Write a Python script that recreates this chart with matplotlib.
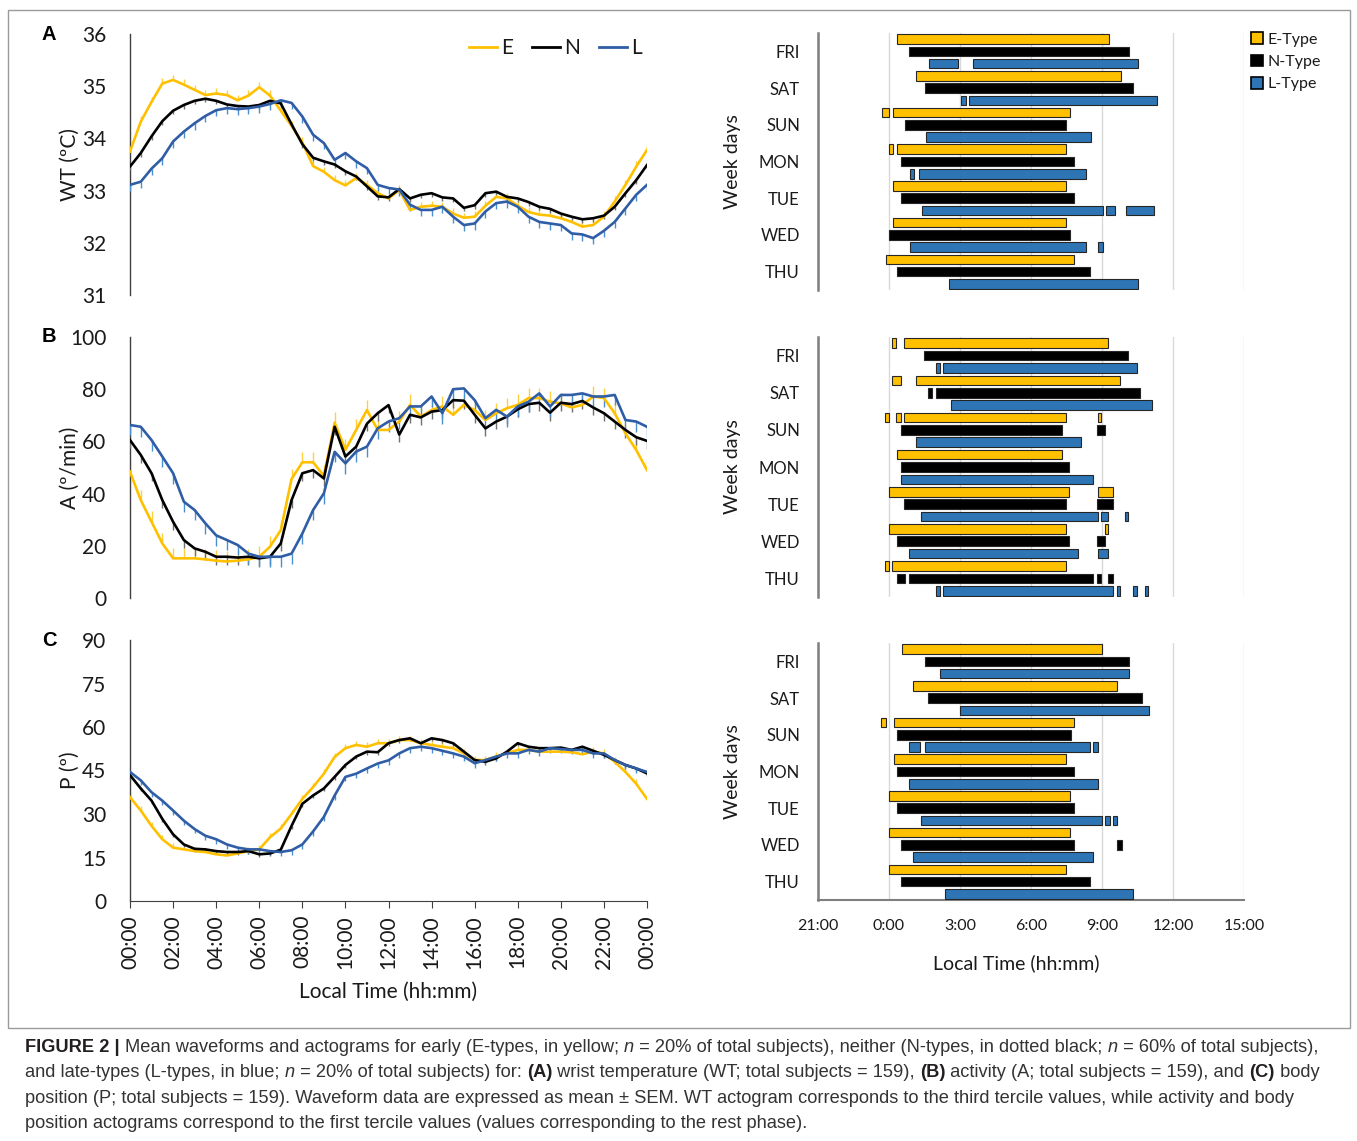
import numpy as np
import matplotlib
matplotlib.use("Agg")
import matplotlib.pyplot as plt
from matplotlib.patches import Patch, Rectangle
from matplotlib.lines import Line2D

plt.rcParams['font.family'] = ['Lato', 'DejaVu Sans']

# ---------------- waveform data (every 30 min, 00:00 .. 24:00) ----------------
HOURS = np.arange(0, 24.5, 0.5)
TIME_TICKS = ["00:00", "02:00", "04:00", "06:00", "08:00", "10:00", "12:00",
              "14:00", "16:00", "18:00", "20:00", "22:00", "00:00"]

WT_E = [33.75, 34.32, 34.70, 35.05, 35.12, 35.03, 34.93, 34.83, 34.86, 34.83, 34.73, 34.82,
        34.98, 34.82, 34.53, 34.24, 33.92, 33.47, 33.36, 33.20, 33.10, 33.24, 33.11, 32.95,
        32.85, 33.01, 32.63, 32.69, 32.71, 32.69, 32.56, 32.48, 32.50, 32.71, 32.88, 32.85,
        32.71, 32.59, 32.54, 32.52, 32.47, 32.40, 32.31, 32.34, 32.50, 32.79, 33.11, 33.46, 33.78]
WT_N = [33.46, 33.72, 34.04, 34.33, 34.53, 34.64, 34.72, 34.76, 34.72, 34.65, 34.62, 34.61,
        34.64, 34.72, 34.67, 34.27, 33.89, 33.63, 33.56, 33.50, 33.37, 33.27, 33.08, 32.89,
        32.87, 33.03, 32.85, 32.92, 32.95, 32.87, 32.85, 32.67, 32.72, 32.95, 32.98, 32.88,
        32.85, 32.78, 32.69, 32.65, 32.56, 32.50, 32.45, 32.47, 32.52, 32.69, 32.95, 33.20, 33.49]
WT_L = [33.11, 33.17, 33.42, 33.62, 33.94, 34.13, 34.29, 34.43, 34.54, 34.58, 34.56, 34.58,
        34.61, 34.66, 34.73, 34.68, 34.42, 34.07, 33.91, 33.59, 33.72, 33.56, 33.43, 33.11,
        33.05, 33.02, 32.73, 32.63, 32.63, 32.69, 32.50, 32.34, 32.37, 32.60, 32.76, 32.79,
        32.69, 32.50, 32.40, 32.37, 32.34, 32.18, 32.16, 32.09, 32.23, 32.40, 32.66, 32.92, 33.11]

A_E = [48.4, 37.5, 29.2, 20.9, 15.2, 15.2, 15.2, 14.8, 14.3, 14.0, 14.3, 14.8,
       15.8, 19.7, 26.0, 45.6, 52.0, 52.0, 46.8, 67.2, 56.8, 64.4, 72.0, 64.4,
       64.4, 67.6, 74.0, 69.5, 72.0, 73.4, 70.2, 74.0, 72.0, 68.2, 70.8, 72.7,
       74.0, 76.6, 76.6, 75.2, 74.6, 73.0, 74.0, 77.2, 76.6, 70.8, 63.1, 56.7, 49.0]
A_N = [60.5, 54.8, 47.8, 37.5, 29.2, 22.2, 19.0, 17.7, 15.8, 15.8, 15.5, 15.8,
       15.2, 15.8, 20.9, 37.5, 47.8, 49.0, 45.8, 65.6, 54.2, 58.0, 66.8, 70.8,
       73.9, 62.6, 70.2, 69.2, 71.4, 72.0, 75.8, 75.6, 70.2, 65.0, 67.6, 69.5,
       72.3, 74.3, 74.8, 71.0, 74.8, 74.3, 75.5, 73.0, 70.8, 67.6, 64.4, 61.6, 60.2]
A_L = [66.3, 65.6, 60.5, 54.2, 47.8, 36.9, 33.7, 28.6, 24.0, 22.2, 20.3, 17.0,
       15.8, 15.8, 15.8, 17.0, 24.7, 33.7, 40.1, 56.0, 51.6, 56.1, 58.0, 65.0,
       67.6, 68.9, 73.4, 73.4, 77.2, 70.8, 80.0, 80.3, 75.8, 68.9, 72.1, 69.5,
       73.4, 75.2, 78.4, 73.4, 77.8, 77.8, 78.4, 77.2, 77.2, 77.8, 68.2, 67.6, 65.6]

P_E = [35.8, 31.2, 25.9, 21.3, 18.4, 17.8, 17.2, 16.9, 16.1, 15.7, 16.4, 17.2,
       17.8, 22.0, 25.0, 30.0, 35.2, 39.3, 43.9, 49.7, 52.7, 53.8, 53.2, 54.4,
       54.4, 55.5, 55.5, 54.4, 53.8, 53.2, 52.7, 50.9, 48.6, 48.6, 49.8, 50.9,
       52.1, 52.1, 51.5, 51.5, 51.5, 51.3, 50.6, 51.5, 50.9, 48.0, 44.5, 40.4, 35.2]
P_N = [43.4, 38.8, 34.6, 28.3, 23.0, 19.5, 18.0, 17.8, 17.2, 16.9, 16.9, 17.2,
       16.1, 16.4, 17.7, 25.9, 33.5, 36.4, 38.8, 42.8, 46.9, 49.8, 51.5, 51.3,
       54.4, 55.5, 56.1, 54.4, 56.1, 55.5, 54.4, 51.5, 48.6, 48.0, 49.2, 51.5,
       54.4, 53.2, 52.7, 52.7, 52.9, 52.1, 53.2, 51.8, 50.4, 48.6, 46.9, 45.7, 44.0]
P_L = [44.5, 41.6, 37.5, 34.6, 31.2, 27.7, 24.8, 22.5, 21.3, 19.5, 18.4, 17.8,
       17.8, 17.2, 16.9, 17.5, 19.5, 24.0, 29.0, 36.4, 42.8, 43.9, 45.7, 47.4,
       48.5, 50.9, 52.7, 53.2, 52.7, 51.8, 50.9, 49.8, 47.5, 48.6, 49.8, 50.9,
       50.9, 52.1, 51.5, 52.7, 52.4, 52.1, 52.1, 50.9, 50.9, 48.6, 46.9, 45.7, 44.5]

# SEM (one value per series: E, N, L)
SEM_WT = [0.10, 0.07, 0.12]
SEM_A = [4.0, 3.0, 4.0]
SEM_P = [1.5, 1.0, 1.5]

# ---------------- actogram data (hours after 0:00) ----------------
DAYS = ["FRI", "SAT", "SUN", "MON", "TUE", "WED", "THU"]
ACT_TICKS = [-3, 0, 3, 6, 9, 12, 15]
ACT_TICK_LABELS = ["21:00", "0:00", "3:00", "6:00", "9:00", "12:00", "15:00"]

WT_ACT_E = [[(0.32, 9.31)], [(1.15, 9.82)], [(-0.31, 0.0), (0.18, 7.66)],
            [(0.0, 0.18), (0.32, 7.46)], [(0.18, 7.46)], [(0.18, 7.46)], [(-0.13, 7.80)]]
WT_ACT_N = [[(0.83, 10.15)], [(1.51, 10.29)], [(0.69, 7.48)], [(0.50, 7.80)],
            [(0.50, 7.80)], [(0.0, 7.66)], [(0.32, 8.50)]]
WT_ACT_L = [[(1.71, 2.92), (3.55, 10.52)], [(3.04, 3.24), (3.37, 11.33)], [(1.58, 8.53)],
            [(0.88, 1.07), (1.25, 8.34)], [(1.39, 9.03), (9.19, 9.55), (10.01, 11.21)],
            [(0.88, 8.34), (8.85, 9.05)], [(2.54, 10.52)]]

A_ACT_E = [[(0.14, 0.31), (0.65, 9.26)], [(0.14, 0.50), (1.15, 9.78)],
           [(-0.18, 0.0), (0.31, 0.52), (0.65, 7.46), (8.81, 8.95)], [(0.32, 7.29)],
           [(0.0, 7.60), (8.81, 9.45)], [(0.0, 7.46), (9.13, 9.26)], [(-0.18, 0.0), (0.14, 7.46)]]
A_ACT_N = [[(1.46, 10.10)], [(1.65, 1.82), (1.98, 10.62)], [(0.50, 7.29), (8.79, 9.14)],
           [(0.50, 7.62)], [(0.65, 7.48), (8.79, 9.45)], [(0.32, 7.62), (8.79, 9.14)],
           [(0.32, 0.66), (0.83, 8.63), (8.79, 8.95), (9.27, 9.45)]]
A_ACT_L = [[(1.99, 2.17), (2.30, 10.46)], [(2.62, 11.12)], [(1.15, 8.11)], [(0.52, 8.63)],
           [(1.35, 8.81), (8.95, 9.26), (9.96, 10.10)], [(0.84, 7.97), (8.81, 9.26)],
           [(1.99, 2.17), (2.30, 9.45), (9.64, 9.78), (10.29, 10.46), (10.80, 10.93)]]

P_ACT_E = [[(0.53, 8.99)], [(1.02, 9.64)], [(-0.32, -0.13), (0.20, 7.80)], [(0.20, 7.48)],
           [(0.01, 7.66)], [(0.01, 7.66)], [(0.01, 7.48)]]
P_ACT_N = [[(1.51, 10.15)], [(1.65, 10.67)], [(0.32, 7.67)], [(0.32, 7.81)], [(0.32, 7.81)],
           [(0.52, 7.81), (9.62, 9.83)], [(0.52, 8.50)]]
P_ACT_L = [[(2.17, 10.14)], [(3.0, 10.98)], [(0.84, 1.33), (1.53, 8.49), (8.63, 8.82)],
           [(0.84, 8.82)], [(1.35, 8.99), (9.13, 9.33), (9.45, 9.65)], [(1.02, 8.63)],
           [(2.37, 10.29)]]

# ---------------- styling ----------------
W, H = 1357, 1141
LINE_COLORS = ["#FFC000", "#000000", "#2F5DA6"]
HAIR_COLORS = ["#FFCF40", "#707070", "#4A8FD0"]
BAR_COLORS = ["#FFC000", "#000000", "#2E75B6"]
TXT = "#1a1a1a"

fig = plt.figure(figsize=(W / 100, H / 100), dpi=100)


def fx(px):
    return px / W


def fy(py):
    return 1 - py / H


# frame
fig.patches.append(Rectangle((fx(8), fy(1028)), fx(1350) - fx(8), fy(10) - fy(1028),
                             transform=fig.transFigure, fill=False,
                             edgecolor="#9a9a9a", lw=1.0))

rect_top_px = {"A": 34, "B": 337, "C": 640}


def line_panel(rect, series, sems, ylim, yticks, ylabel, letter, bottom=False):
    ax = fig.add_axes(rect)
    for i, (vals, sem) in enumerate(zip(series, sems)):
        v = np.array(vals)
        s = np.full(len(v), sem)
        z = np.zeros(len(v))
        yerr = [z, s] if i == 0 else [s, z]
        ax.errorbar(HOURS, v, yerr=yerr, fmt="none", ecolor=HAIR_COLORS[i],
                    elinewidth=1.0, capsize=0, zorder=2 + i)
        ax.plot(HOURS, v, color=LINE_COLORS[i], lw=1.9, zorder=5 + i)
    ax.set_xlim(0, 24)
    ax.set_ylim(*ylim)
    ax.set_yticks(yticks)
    ax.set_yticklabels([str(t) for t in yticks], fontsize=15, color=TXT)
    ax.tick_params(axis="y", length=0, pad=17)
    for sp in ["top", "right"]:
        ax.spines[sp].set_visible(False)
    ax.spines["left"].set_color("#404040")
    ax.spines["left"].set_linewidth(1.0)
    if bottom:
        ax.spines["bottom"].set_color("#404040")
        ax.set_xticks(np.arange(0, 25, 2))
        ax.set_xticklabels(TIME_TICKS, rotation=90, fontsize=15, color=TXT)
        ax.tick_params(axis="x", length=5, color="#404040", pad=5)
        ax.set_xlabel("Local Time (hh:mm)", fontsize=15, color=TXT)
        ax.xaxis.set_label_coords(0.5, -0.31)
    else:
        ax.spines["bottom"].set_visible(False)
        ax.set_xticks([])
    ax.set_ylabel(ylabel, fontsize=15, color=TXT)
    ax.yaxis.set_label_coords(-0.097, 0.5)
    fig.text(fx(49), fy(rect_top_px[letter]), letter, fontsize=14.5, fontweight="bold",
             family=["Liberation Sans"], ha="center", va="center", color="#000000")
    return ax


axA = line_panel([fx(130), fy(295), 517 / W, 261 / H], [WT_E, WT_N, WT_L], SEM_WT,
                 (31, 36), [31, 32, 33, 34, 35, 36], "WT (ºC)", "A")
axB = line_panel([fx(130), fy(598), 517 / W, 261 / H], [A_E, A_N, A_L], SEM_A,
                 (0, 100), [0, 20, 40, 60, 80, 100], "A (º/min)", "B")
axC = line_panel([fx(130), fy(901), 517 / W, 261 / H], [P_E, P_N, P_L], SEM_P,
                 (0, 90), [0, 15, 30, 45, 60, 75, 90], "P (º)", "C", bottom=True)

leg_handles = [Line2D([], [], color=c, lw=2) for c in LINE_COLORS]
axA.legend(leg_handles, ["E", "N", "L"], loc="upper right", bbox_to_anchor=(0.99, 0.985),
           ncol=3, frameon=False, fontsize=15, handlelength=1.35, handletextpad=0.2,
           columnspacing=0.9, borderpad=0, borderaxespad=0, labelcolor=TXT)


def actogram(rect, groups, show_x=False):
    ax = fig.add_axes(rect)
    for k, grp in enumerate(groups):
        for d, segs in enumerate(grp):
            ypos = d * 3 + k
            for (s, e) in segs:
                ax.barh(ypos, e - s, left=s, height=0.78, color=BAR_COLORS[k],
                        edgecolor="#262626", linewidth=0.8, zorder=3)
    ax.set_xlim(-3, 15)
    ax.set_ylim(20.5, -0.5)
    ax.set_xticks(ACT_TICKS)
    ax.grid(axis="x", color="#d9d9d9", lw=1.0, zorder=0)
    ax.set_axisbelow(True)
    ax.set_yticks([d * 3 + 1 for d in range(len(DAYS))])
    ax.set_yticklabels(DAYS, fontsize=12, color=TXT)
    ax.tick_params(axis="y", length=0, pad=13)
    for sp in ["top", "right"]:
        ax.spines[sp].set_visible(False)
    ax.spines["left"].set_color("#7f7f7f")
    ax.spines["left"].set_linewidth(1.8)
    ax.set_ylabel("Week days", fontsize=14, color=TXT)
    ax.yaxis.set_label_coords(-0.18, 0.5)
    if show_x:
        ax.spines["bottom"].set_color("#7f7f7f")
        ax.spines["bottom"].set_linewidth(1.5)
        ax.set_xticklabels(ACT_TICK_LABELS, fontsize=11.5, color=TXT)
        ax.tick_params(axis="x", length=0, pad=14)
        ax.set_xlabel("Local Time (hh:mm)", fontsize=14, color=TXT)
        ax.xaxis.set_label_coords(0.465, -0.21)
    else:
        ax.spines["bottom"].set_visible(False)
        ax.tick_params(axis="x", length=0, labelbottom=False)
    return ax


actA = actogram([fx(818), fy(290), 426 / W, 257 / H], [WT_ACT_E, WT_ACT_N, WT_ACT_L])
actB = actogram([fx(818), fy(597), 426 / W, 260 / H], [A_ACT_E, A_ACT_N, A_ACT_L])
actC = actogram([fx(818), fy(900), 426 / W, 257 / H], [P_ACT_E, P_ACT_N, P_ACT_L], show_x=True)

bar_handles = [Patch(facecolor=c, edgecolor="#000000", lw=1.2) for c in BAR_COLORS]
fig.legend(bar_handles, ["E-Type", "N-Type", "L-Type"], loc="upper left",
           bbox_to_anchor=(fx(1240), fy(21)), frameon=False, fontsize=11.5,
           handlelength=0.75, handleheight=0.75, handletextpad=0.3, labelspacing=0.5,
           borderpad=0.2, labelcolor=TXT)

# ---------------- caption ----------------
CAPTION = [
    [("FIGURE 2 | ", "bold", "normal"),
     ("Mean waveforms and actograms for early (E-types, in yellow; ", "normal", "normal"),
     ("n", "normal", "italic"),
     (" = 20% of total subjects), neither (N-types, in dotted black; ", "normal", "normal"),
     ("n", "normal", "italic"),
     (" = 60% of total subjects),", "normal", "normal")],
    [("and late-types (L-types, in blue; ", "normal", "normal"),
     ("n", "normal", "italic"),
     (" = 20% of total subjects) for: ", "normal", "normal"),
     ("(A)", "bold", "normal"),
     (" wrist temperature (WT; total subjects = 159), ", "normal", "normal"),
     ("(B)", "bold", "normal"),
     (" activity (A; total subjects = 159), and ", "normal", "normal"),
     ("(C)", "bold", "normal"),
     (" body", "normal", "normal")],
    [("position (P; total subjects = 159). Waveform data are expressed as mean ± SEM. "
      "WT actogram corresponds to the third tercile values, while activity and body",
      "normal", "normal")],
    [("position actograms correspond to the first tercile values "
      "(values corresponding to the rest phase).", "normal", "normal")],
]
CAP_Y = [1047, 1072, 1098, 1123]

renderer = fig.canvas.get_renderer()
CAP_FONT = ["Liberation Sans", "DejaVu Sans"]


def text_width(s, weight, style, size):
    t1 = fig.text(0, 0, "|" + s + "|", fontsize=size, fontweight=weight, fontstyle=style,
                  family=CAP_FONT)
    t2 = fig.text(0, 0, "||", fontsize=size, fontweight=weight, fontstyle=style,
                  family=CAP_FONT)
    w = t1.get_window_extent(renderer).width - t2.get_window_extent(renderer).width
    t1.remove()
    t2.remove()
    return w


base = 13.0
w1 = sum(text_width(s, wt, st, base) for s, wt, st in CAPTION[0])
cap_size = base * (1313 - 25) / w1

for line, ypx in zip(CAPTION, CAP_Y):
    xpx = 25
    for s, wt, st in line:
        color = "#231f20" if wt == "bold" else "#333333"
        fig.text(fx(xpx), fy(ypx + 5), s, fontsize=cap_size, fontweight=wt, fontstyle=st,
                 family=CAP_FONT, color=color, ha="left", va="baseline")
        xpx += text_width(s, wt, st, cap_size)

fig.savefig("out.png", dpi=100)
